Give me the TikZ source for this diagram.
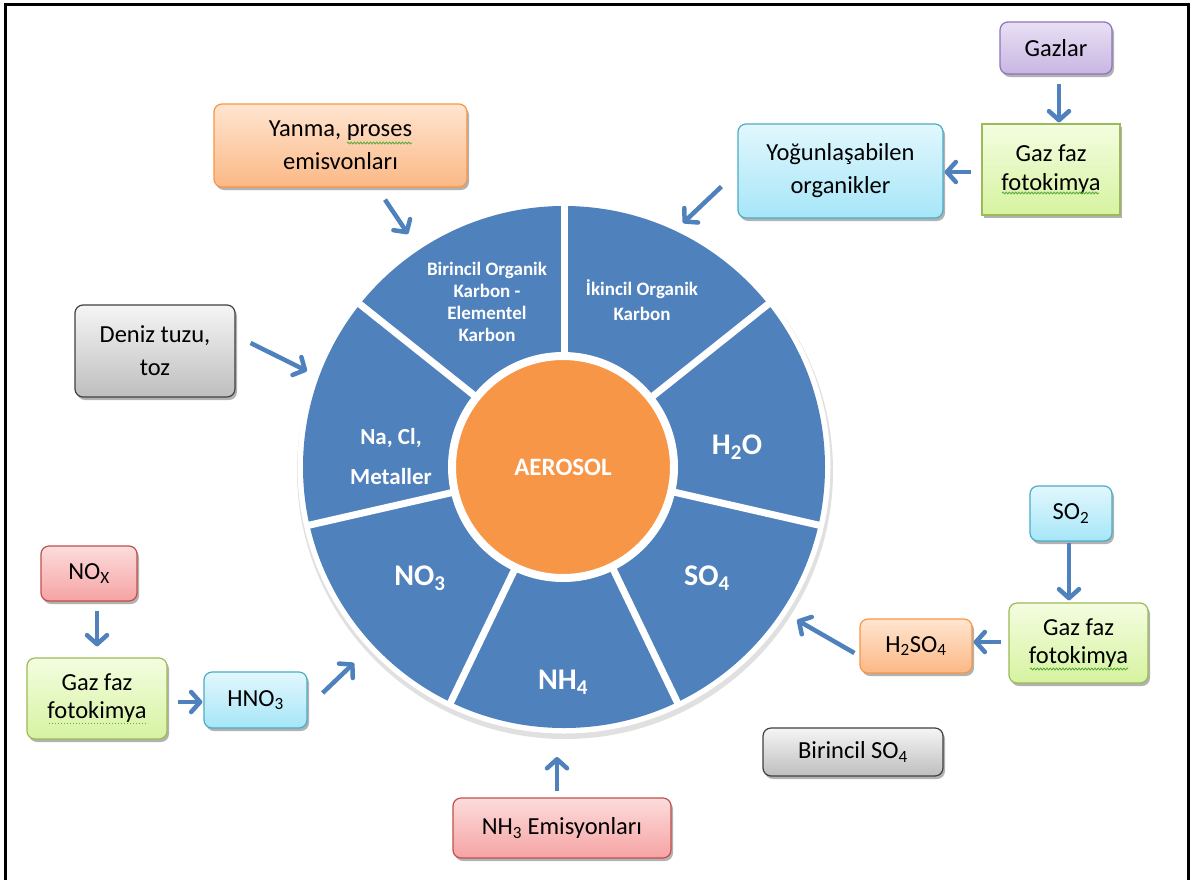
\documentclass[tikz,border=0pt]{standalone}
\usepackage{fontspec}
\setmainfont{Carlito}
\usetikzlibrary{arrows.meta,shadows,decorations.pathmorphing,calc}
\definecolor{wblue}{RGB}{79,129,189}
\definecolor{worange}{RGB}{247,150,70}
\definecolor{purT}{RGB}{233,224,245}\definecolor{purB}{RGB}{200,182,226}\definecolor{purD}{RGB}{140,115,190}
\definecolor{grnT}{RGB}{244,253,224}\definecolor{grnB}{RGB}{214,243,160}\definecolor{grnD}{RGB}{155,187,89}
\definecolor{cyaT}{RGB}{226,247,253}\definecolor{cyaB}{RGB}{166,230,248}\definecolor{cyaD}{RGB}{75,172,198}
\definecolor{oraT}{RGB}{255,229,208}\definecolor{oraB}{RGB}{251,184,133}\definecolor{oraD}{RGB}{247,150,70}
\definecolor{gryT}{RGB}{245,245,245}\definecolor{gryB}{RGB}{190,190,190}\definecolor{gryD}{RGB}{64,64,64}
\definecolor{redT}{RGB}{252,220,220}\definecolor{redB}{RGB}{246,163,163}\definecolor{redD}{RGB}{192,80,77}
\definecolor{squig}{RGB}{90,175,60}
\begin{document}
\begin{tikzpicture}[x=1pt,y=-1pt,
  box/.style={rounded corners=8pt, inner sep=0pt, align=center, text=black,
    font=\fontsize{24.5}{33}\selectfont, line width=1.2pt,
    drop shadow={shadow xshift=2pt, shadow yshift=-3pt, opacity=0.3, fill=black}},
  purbox/.style={box, draw=purD, top color=purT, bottom color=purB},
  grnbox/.style={box, draw=grnD, top color=grnT, bottom color=grnB},
  cyabox/.style={box, draw=cyaD, top color=cyaT, bottom color=cyaB},
  orabox/.style={box, draw=oraD, top color=oraT, bottom color=oraB},
  grybox/.style={box, draw=gryD, top color=gryT, bottom color=gryB},
  redbox/.style={box, draw=redD, top color=redT, bottom color=redB},
  seg/.style={text=white, align=center, inner sep=0pt, font=\fontsize{19}{22}\selectfont\bfseries},
  bigseg/.style={text=white, inner sep=0pt, font=\fontsize{30}{34}\selectfont\bfseries},
  arr/.style={draw=wblue, line width=4.5pt, -{Straight Barb[length=9pt,width=20pt,round]}},
  sq/.style={draw=squig, line width=0.9pt, decorate, decoration={snake, amplitude=0.9pt, segment length=3.2pt}}
]
\clip (0,0) rectangle (1195,879);
\useasboundingbox (0,0) rectangle (1195,879);
\fill[white] (0,0) rectangle (1195,879);
% frame
\draw[black, line width=2.6pt] (5.5,900) -- (5.5,4.5) -- (1188.5,4.5) -- (1188.5,900);

% wheel
\begin{scope}[shift={(564,467)}, yscale=-1]
  \fill[black!12] (1,-4) circle (268);
  \fill[white] (0,0) circle (266.5);
  \fill[wblue] (0,0) circle (261);
  \foreach \k in {0,...,6}
    \draw[white, line width=7pt] ({90-\k*360/7}:100) -- ({90-\k*360/7}:264);
\end{scope}
\node[circle, fill=worange, draw=white, line width=8pt, minimum size=222pt, inner sep=0pt,
      text=white, font=\fontsize{25}{30}\selectfont\bfseries] (aerosol) at (563,467) {AEROSOL};

% segment labels
\node[seg] (poc) at (487,302) {Birincil Organik\\Karbon -\\Elementel\\Karbon};
\node[seg, font=\fontsize{19}{25}\selectfont\bfseries] (soc) at (642,300) {İkincil Organik\\Karbon};
\node[bigseg] (h2o) at (737,447) {H\textsubscript{2}O};
\node[bigseg] (so4) at (707,578) {SO\textsubscript{4}};
\node[bigseg] (nh4) at (563,682) {NH\textsubscript{4}};
\node[bigseg] (no3) at (420,578) {NO\textsubscript{3}};
\node[seg, font=\fontsize{23}{40}\selectfont\bfseries] (nacl) at (391,457) {Na, Cl,\\Metaller};

% boxes
\node[purbox, minimum width=112pt, minimum height=52pt] (gazlar) at (1056,48) {Gazlar};
\node[grnbox, rounded corners=0pt, minimum width=138pt, minimum height=91pt, font=\fontsize{24.5}{29}\selectfont] (gaztr) at (1051,169.5) {Gaz faz\\fotokimya};
\node[cyabox, minimum width=205pt, minimum height=94pt] (yog) at (840.5,171) {Yoğunlaşabilen\\organikler};
\node[orabox, minimum width=253pt, minimum height=83pt] (yanma) at (340.5,145.5) {Yanma, proses\\emisvonları};
\node[grybox, minimum width=160pt, minimum height=92pt] (deniz) at (155,351) {Deniz tuzu,\\toz};
\node[redbox, minimum width=96pt, minimum height=55pt] (nox) at (89,573.5) {NO\textsubscript{X}};
\node[grnbox, minimum width=140pt, minimum height=81pt, font=\fontsize{24.5}{28}\selectfont] (gazl) at (97,698.5) {Gaz faz\\fotokimya};
\node[cyabox, minimum width=103pt, minimum height=56pt] (hno3) at (255.5,700) {HNO\textsubscript{3}};
\node[cyabox, minimum width=82pt, minimum height=55pt] (so2) at (1071,513.5) {SO\textsubscript{2}};
\node[grnbox, minimum width=139pt, minimum height=80pt, font=\fontsize{24.5}{28}\selectfont] (gazbr) at (1078.5,643) {Gaz faz\\fotokimya};
\node[orabox, minimum width=112pt, minimum height=54pt] (h2so4) at (916,646) {H\textsubscript{2}SO\textsubscript{4}};
\node[grybox, minimum width=180pt, minimum height=48pt] (birso4) at (853,752) {Birincil SO\textsubscript{4}};
\node[redbox, minimum width=218pt, minimum height=60pt] (nh3) at (562,828) {NH\textsubscript{3} Emisyonları};

% spelling squiggles
\draw[sq] (347,143) -- (412,143);
\draw[sq] (1002,193) -- (1099,193);
\draw[sq] (1030,669) -- (1128,669);
\draw[draw=squig, line width=1pt, dotted] (49,723) -- (147,723);

% free ends on the wheel
\coordinate (cyog) at (683,223);
\coordinate (cyan) at (408,234);
\coordinate (cden) at (307,371);
\coordinate (chno) at (354,663);
\coordinate (cnh) at (557,757);
\coordinate (chso) at (797,620);

% arrows
\draw[arr] ([shift={(3,9)}]gazlar.south) -- ([shift={(8,-1)}]gaztr.north);
\draw[arr] ([shift={(-10,2.5)}]gaztr.west) -- ([shift={(1,1)}]yog.east);
\draw[arr] ([shift={(-16,-32)}]yog.south west) -- (cyog);
\draw[arr] ([shift={(44.5,12)}]yanma.south) -- (cyan);
\draw[arr] ([shift={(15,-8)}]deniz.east) -- (cden);
\draw[arr] ([shift={(8,9)}]nox.south) -- ([shift={(0,-11)}]gazl.north);
\draw[arr] ([shift={(10,3.5)}]gazl.east) -- ([shift={(-1,2)}]hno3.west);
\draw[arr] ([shift={(15,-7)}]hno3.east) -- (chno);
\draw[arr] ([shift={(-5,-6)}]nh3.north) -- (cnh);
\draw[arr] ([shift={(-2,1)}]so2.south) -- ([shift={(-9.5,-2)}]gazbr.north);
\draw[arr] ([shift={(-7,-1)}]gazbr.west) -- ([shift={(1,-4)}]h2so4.east);
\draw[arr] ([shift={(-5,7)}]h2so4.west) -- (chso);
\end{tikzpicture}
\end{document}
